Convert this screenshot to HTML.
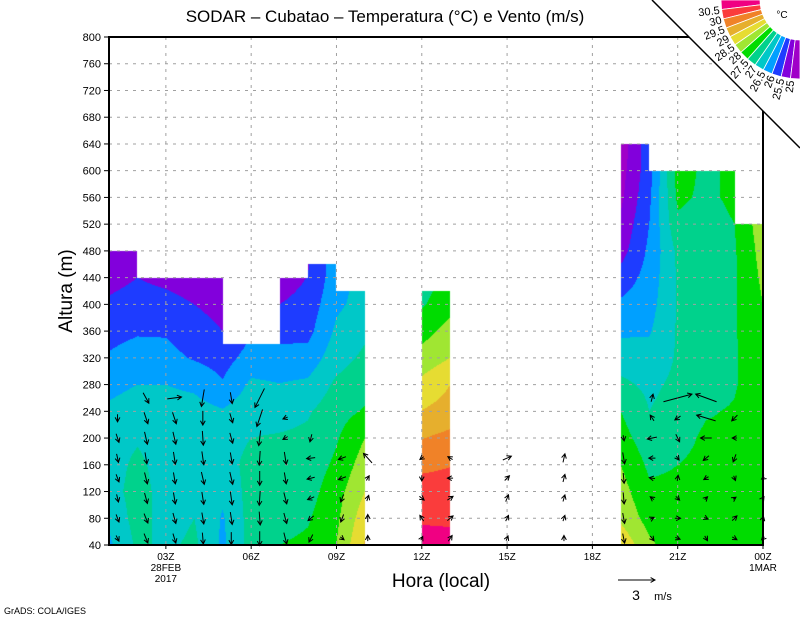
<!DOCTYPE html>
<html><head><meta charset="utf-8"><style>
html,body{margin:0;padding:0;background:#fff;width:800px;height:618px;overflow:hidden}
#wrap{position:relative;width:800px;height:618px}
canvas,svg{position:absolute;left:0;top:0}
text{font-family:"Liberation Sans",sans-serif;fill:#000}
</style></head><body>
<div id="wrap">
<canvas id="cv" width="800" height="618"></canvas>
<svg id="sv" width="800" height="618"></svg>
</div>
<script>
// ---- data ----
const levels = [25,25.5,26,26.5,27,27.5,28,28.5,29,29.5,30,30.5];
const levelColors = ["#a000c8","#8200dc","#1e3cff","#00a0ff","#00c8c8","#00d28c","#00dc00","#a0e632","#e6dc32","#e6af2d","#f08228","#fa3c3c","#f00082"];
const heights = [40,80,120,160,200,240,280,320,360,400,440,480,520,560,600,640];
const colTimes = [1,2,3,4,5,6,7,8,9,10, 12,13, 19,20,21,22,23,24];
const colTemps = [
 [26.4,26.6,26.8,26.8,26.8,26.6,26.35,26.05,25.85,25.6,25.3,25.0],
 [27.1,27.2,27.2,27.1,26.95,26.75,26.5,26.2,25.95,25.75,25.5],
 [26.9,26.8,26.8,26.8,26.8,26.7,26.5,26.15,25.95,25.7,25.35],
 [27.1,27.0,27.0,27.0,26.9,26.7,26.4,25.95,25.75,25.5,25.2],
 [26.4,26.45,26.6,26.8,26.8,26.55,26.05,25.8,25.5,25.3,25.1],
 [27.2,27.2,27.2,27.15,27.0,26.8,26.6,26.2,25.95],
 [27.5,27.3,27.25,27.2,27.05,26.8,26.52,26.15,25.85,25.5,25.2],
 [27.6,27.45,27.3,27.2,27.1,26.95,26.6,26.2,25.85,25.7,25.52,25.4],
 [28.0,27.9,27.8,27.6,27.45,27.3,27.1,26.8,26.6,26.4,26.3],
 [29.05,28.8,28.5,28.25,28.0,27.55,27.3,27.1,26.9,26.7,26.65],
 [30.8,30.4,30.2,29.9,29.48,29.02,28.64,28.2,27.8,27.44,27.3],
 [30.7,30.4,30.2,29.98,29.65,29.2,29.0,28.5,28.2,27.8,27.6],
 [28.9,28.4,28.2,28.0,27.7,27.5,27.1,26.8,26.4,26.1,25.7,25.3,25.1,24.9,24.8,24.7],
 [28.1,27.8,27.6,27.4,27.2,27.0,26.9,26.7,26.45,26.3,26.2,26.1,26.0,25.9,25.8,25.8],
 [27.7,27.7,27.6,27.5,27.3,27.2,27.1,27.05,27.05,27.05,27.05,27.1,27.4,27.6,27.7],
 [27.7,27.7,27.7,27.65,27.6,27.45,27.2,27.2,27.2,27.2,27.2,27.2,27.3,27.4,27.4],
 [27.8,27.8,27.8,27.7,27.6,27.55,27.45,27.45,27.45,27.45,27.45,27.45,27.5,27.6,27.6],
 [27.7,27.8,27.8,27.85,27.9,27.9,27.9,27.9,27.95,28.0,28.1,28.2,28.3]
];
const topT0 = [1,2,5,7,8,9,12,19,20,23];
const topT1 = [2,5,7,8,9,10,13,20,23,24];
const topH  = [480,440,340,440,460,420,420,640,600,520];
const yTicks = [40,80,120,160,200,240,280,320,360,400,440,480,520,560,600,640,680,720,760,800];
const xTickTimes = [3,6,9,12,15,18,21,24];
const xTickLabels = ["03Z","06Z","09Z","12Z","15Z","18Z","21Z","00Z"];
const windH = [50,80,110,140,170,200,230,260];
const windT = [1.3,2.3,3.3,4.3,5.3,6.3,7.2,8.1,9.2,10.1,12.0,13.0,15.0,17.0,19.1,20.1,21.0,22.0,23.0,24.0];
const windU = [
 [0.3,0.3,0.2,0.3,0.2,0.3,0,null],
 [0.4,0.4,0.3,0.3,0.2,0.3,0.4,0.6],
 [0.3,0.3,0.2,0.2,0.2,0.3,0.4,1.5],
 [0.1,0.2,0.2,0.3,0.2,0.1,0,-0.3],
 [0,0.2,0.2,0.3,0.2,0.3,0.3,0.2],
 [0,0.1,-0.1,0,-0.1,-0.2,-0.6,-1.0],
 [0.3,0.3,0.3,0.2,0.2,-0.5,-0.5,null],
 [-0.4,-0.6,-0.7,-0.8,-0.9,-0.2,null,null],
 [0.4,-0.3,-0.3,-0.8,-0.8,null,null,null],
 [0,0,0.2,0.3,-0.9,null,null,null],
 [0.2,-0.4,0.5,0,-0.4,null,null,null],
 [0.4,0.6,0.6,-0.6,-0.5,null,null,null],
 [0.2,0.3,0.3,0.5,0.9,null,null,null],
 [0,0.2,0.2,0.2,0.2,null,null,null],
 [0.2,0.2,0.1,0.1,0.2,0.1,null,null],
 [0.4,0.4,-0.4,-0.6,-0.7,-1.0,-0.4,0.2],
 [0.5,0.6,0.4,0.1,0.3,0.4,-0.6,3.0],
 [0.3,0.4,0.3,-0.5,-0.6,-1.2,-2.0,-2.2],
 [0.5,0.5,0.3,0.2,-0.3,-0.5,-0.6,null],
 [-0.3,0.1,0.2,-0.3,null,null,null,null]
];
const windV = [
 [-0.6,-0.8,-0.8,-0.8,-0.9,-0.9,-0.8,null],
 [-1,-1,-1.1,-1.2,-1.2,-1.3,-1.2,-1.1],
 [-1,-1.1,-1.2,-1.2,-1.3,-1.3,-1.2,0.2],
 [-1.2,-1.2,-1.3,-1.3,-1.4,-1.5,-1.5,-1.8],
 [-1.3,-1.3,-1.4,-1.3,-1.2,-1.1,-1,-1.2],
 [-1.5,-1.4,-1.5,-1.5,-1.5,-1.6,-1.8,-2],
 [-1.2,-1.1,-1.2,-1.2,-1.3,-0.3,-0.2,null],
 [-0.8,-0.5,-0.3,-0.2,-0.1,-0.8,null,null],
 [-0.3,-0.8,-0.8,-0.3,-0.3,null,null,null],
 [0.6,0.8,0.6,0.5,1.0,null,null,null],
 [0.4,0.6,-0.4,-0.6,-0.3,null,null,null],
 [0.6,0.5,0.4,0,0.3,null,null,null],
 [0.5,0.6,0.7,0.5,0.4,null,null,null],
 [0.6,0.6,0.7,0.8,0.9,null,null,null],
 [-1,-1.1,-1.2,-1.1,-1.2,-0.6,null,null],
 [-0.5,0.2,0.3,0.1,0,-0.2,0.6,0.8],
 [-0.2,0,-0.4,0.6,-0.4,-0.8,-0.4,0.8],
 [-0.5,-0.2,0.3,-0.3,-0.5,0,0.6,0.8],
 [-0.3,0.5,0.2,-0.5,-0.8,0,-0.6,null],
 [-0.3,0.4,0.3,-0.2,null,null,null,null]
];
const cbLabels = ["30.5","30","29.5","29","28.5","28","27.5","27","26.5","26","25.5","25"];

// ---- scales ----
const X0=109,X1=763,Y0=545,Y1=37;
function xs(t){return X0+(t-1)*(X1-X0)/23;}
function ys(h){return Y0-(h-40)*(Y0-Y1)/760;}
function tInv(x){return 1+(x-X0)*23/(X1-X0);}
function hInv(y){return 40+(Y0-y)*760/(Y0-Y1);}
function prof(i,h){const p=colTemps[i];let k=(h-40)/40;if(k<=0)return p[0];if(k>=p.length-1)return p[p.length-1];const j=Math.floor(k),f=k-j;return p[j]*(1-f)+p[j+1]*f;}
function topAt(t){for(let i=0;i<topT0.length;i++){if(t>=topT0[i]&&t<=topT1[i])return topH[i];}return null;}
function temp(t,h){
 let i=-1;for(let k=0;k<colTimes.length-1;k++){if(t>=colTimes[k]&&t<=colTimes[k+1]){i=k;break;}}
 if(i<0)return prof(colTimes.length-1,h);
 if(colTimes[i+1]-colTimes[i]>1.5){return Math.abs(t-colTimes[i])<Math.abs(t-colTimes[i+1])?prof(i,h):prof(i+1,h);}
 const f=(t-colTimes[i])/(colTimes[i+1]-colTimes[i]);return prof(i,h)*(1-f)+prof(i+1,h)*f;
}
function colorIdx(v){let k=0;while(k<levels.length&&v>=levels[k])k++;return k;}
function hex(c){return [parseInt(c.substr(1,2),16),parseInt(c.substr(3,2),16),parseInt(c.substr(5,2),16)];}

// ---- heatmap ----
const cv=document.getElementById('cv'),ctx=cv.getContext('2d');
const img=ctx.createImageData(800,618);const rgb=levelColors.map(hex);
for(let x=X0;x<X1;x++){const t=tInv(x+0.5);const top=topAt(t);if(top===null)continue;
 const yt=Math.round(ys(top));
 for(let y=yt;y<Y0;y++){const c=rgb[colorIdx(temp(t,hInv(y+0.5)))];const o=(y*800+x)*4;img.data[o]=c[0];img.data[o+1]=c[1];img.data[o+2]=c[2];img.data[o+3]=255;}}
ctx.putImageData(img,0,0);

// ---- svg overlay ----
const NS="http://www.w3.org/2000/svg",sv=document.getElementById('sv');
function mk(tag,at,parent){const e=document.createElementNS(NS,tag);for(const k in at)e.setAttribute(k,at[k]);(parent||sv).appendChild(e);return e;}
const grid=mk('g',{});


yTicks.forEach(h=>{if(h===40||h===800)return;const l=mk('line',{x1:X0,x2:X1,y1:ys(h),y2:ys(h),stroke:'#a0a0a0','stroke-width':1,'stroke-dasharray':'3,5'},grid);
 
 });
xTickTimes.forEach(t=>{if(t===24)return;const l=mk('line',{x1:xs(t),x2:xs(t),y1:Y1,y2:Y0,stroke:'#a0a0a0','stroke-width':1,'stroke-dasharray':'3,5'},grid);
 
 });
const fr=mk('rect',{x:X0,y:Y1,width:X1-X0,height:Y0-Y1,fill:'none',stroke:'#000','stroke-width':2});


yTicks.forEach(h=>{const l=mk('line',{x1:X0-5,x2:X0,y1:ys(h),y2:ys(h),stroke:'#000','stroke-width':1});
 
 
 const tx=mk('text',{x:101,y:ys(h)+4,'text-anchor':'end','font-size':11});tx.textContent=h;
 
 });
xTickTimes.forEach((t,i)=>{const l=mk('line',{x1:xs(t),x2:xs(t),y1:Y0,y2:Y0+4,stroke:'#000','stroke-width':1});
 
 
 const tx=mk('text',{x:xs(t),y:560,'text-anchor':'middle','font-size':10});tx.textContent=xTickLabels[i];
 
 });
function txt(s,x,y,fs,anchor,name,extra){const t=mk('text',Object.assign({x:x,y:y,'font-size':fs,'text-anchor':anchor},extra||{}));t.textContent=s;
 
 return t;}
txt("28FEB",xs(3),571,10,'middle','date-label');
txt("2017",xs(3),582,10,'middle','year-label');
txt("1MAR",xs(24),571,10,'middle','date-label-end');
txt("SODAR  \u2013  Cubatao  \u2013  Temperatura (\u00b0C) e Vento (m/s)",385,22,17,'middle','chart-title');
txt("Altura (m)",72,291,19,'middle','y-axis-title',{transform:'rotate(-90 72 291)'});
txt("Hora (local)",441,587,19,'middle','x-axis-title');
txt("GrADS: COLA/IGES",4,614,9,'start','credit-label');
// wind
const WS=9.5;
const wg=mk('g',{stroke:'#000','stroke-width':1,fill:'none'});


function arrow(cx,cy,dx,dy,g,name){const x1=cx-dx/2,y1=cy-dy/2,x2=cx+dx/2,y2=cy+dy/2;const a=Math.atan2(dy,dx),L=5;
 const p=mk('path',{d:`M${x1},${y1}L${x2},${y2}M${x2-L*Math.cos(a-0.5)},${y2-L*Math.sin(a-0.5)}L${x2},${y2}L${x2-L*Math.cos(a+0.5)},${y2-L*Math.sin(a+0.5)}`},g);
 
 }
windT.forEach((t,i)=>{windH.forEach((h,j)=>{const u=windU[i][j],v=windV[i][j];if(u===null||v===null)return;arrow(xs(t),ys(h),u*WS,-v*WS,wg,'wind-arrow');});});
const rg=mk('g',{stroke:'#000','stroke-width':1,fill:'none'});


arrow(636.5,580,37,0,rg,'reference-arrow');
txt("3",636,600,14,'middle','reference-speed');
txt("m/s",663,600,11,'middle','reference-unit');
// colorbar corner
const cb=mk('g',{});


const cbw=mk('polygon',{points:'652,0 800,0 800,148',fill:'#fff',stroke:'none'},cb);


const dl=mk('line',{x1:652,y1:0,x2:800,y2:148,stroke:'#000','stroke-width':1.5},cb);


const CX=800,CY=0,R0=40,R1=79,n=levelColors.length;
for(let k=0;k<n;k++){
 const A0=Math.PI-(k)*(Math.PI/2)/n, A1=Math.PI-(k+1)*(Math.PI/2)/n;
 const pts=[[CX+R0*Math.cos(A0),CY+R0*Math.sin(A0)],[CX+R1*Math.cos(A0),CY+R1*Math.sin(A0)],[CX+R1*Math.cos(A1),CY+R1*Math.sin(A1)],[CX+R0*Math.cos(A1),CY+R0*Math.sin(A1)]];
 const p=mk('polygon',{points:pts.map(q=>q.join(',')).join(' '),fill:levelColors[n-1-k],stroke:'#fff','stroke-width':0.8},cb);
 
 }
cbLabels.forEach((s,k)=>{const A=Math.PI-(k+1)*(Math.PI/2)/n;const r=R1+2;const x=CX+r*Math.cos(A),y=CY+r*Math.sin(A);const deg=(A-Math.PI)*180/Math.PI;
 const t=mk('text',{x:x,y:y+4,'font-size':11,'text-anchor':'end',transform:`rotate(${deg} ${x} ${y})`},cb);t.textContent=s;
 
 });
txt("\u00b0C",782,18,10,'middle','colorbar-unit');
</script>
</body></html>
